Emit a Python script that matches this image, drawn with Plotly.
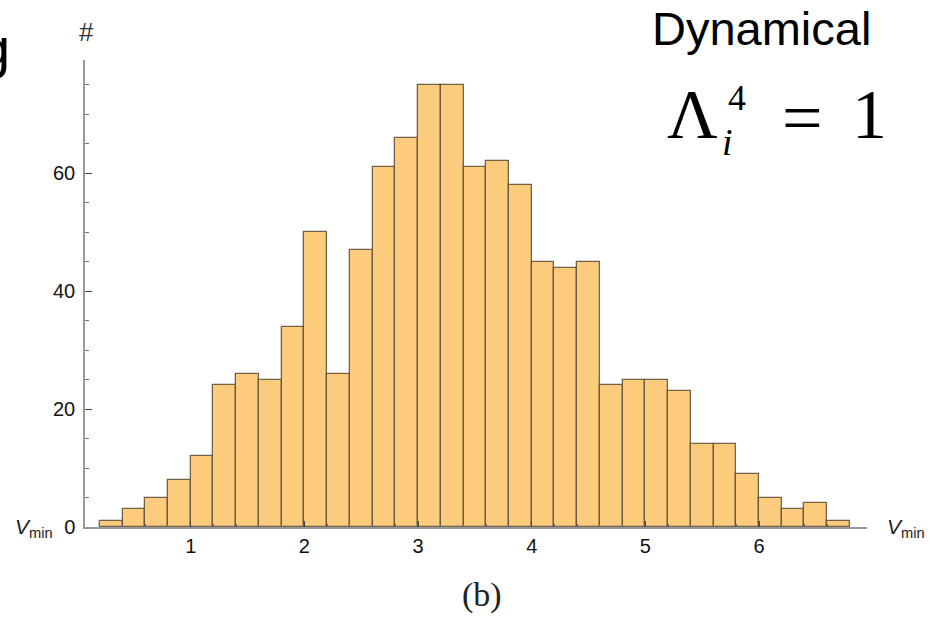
import plotly.graph_objects as go

# Histogram of V_min: 33 bins of width 0.2 starting at 0.2
bin_start = 0.2
bin_width = 0.2
counts = [1, 3, 5, 8, 12, 24, 26, 25, 34, 50, 26, 47, 61, 66, 75, 75, 61,
          62, 58, 45, 44, 45, 24, 25, 25, 23, 14, 14, 9, 5, 3, 4, 1]
x_ticks = [1, 2, 3, 4, 5, 6]
y_ticks = [0, 20, 40, 60]

centers = [bin_start + bin_width * (i + 0.5) for i in range(len(counts))]

W, H = 930, 618
L, R, T, B = 85, 63, 60, 91
plot_w, plot_h = W - L - R, H - T - B


def px(xp):
    return (xp - L) / plot_w


def py(yp):
    return (H - B - yp) / plot_h


fig = go.Figure()
fig.add_trace(go.Bar(
    x=centers, y=counts, width=bin_width,
    marker=dict(color="rgb(252,204,124)",
                line=dict(color="rgba(90,75,55,0.85)", width=1.3)),
    hoverinfo="x+y",
))

axis_col = "#9a9a9a"
tick_font = dict(family="Liberation Sans, Arial, sans-serif", size=20, color="#111111")

fig.update_xaxes(
    range=[0.07, 6.95], showgrid=False, zeroline=False,
    showline=True, linecolor=axis_col, linewidth=1.5,
    tickvals=x_ticks, ticks="inside", ticklen=6, tickcolor="#444",
    tickfont=tick_font, ticklabelstandoff=0,
    minor=dict(dtick=0.2, tick0=0, ticks="inside", ticklen=3, tickcolor="#666"),
)
fig.update_yaxes(
    range=[0, 79.2], showgrid=False, zeroline=False,
    showline=True, linecolor=axis_col, linewidth=1.5,
    tickvals=y_ticks, ticks="inside", ticklen=7, tickcolor="#444",
    tickfont=tick_font, ticklabelstandoff=4,
    minor=dict(dtick=5, tick0=0, ticks="inside", ticklen=4, tickcolor="#777"),
)

sans = "Liberation Sans, Arial, sans-serif"
serif = "Liberation Serif, DejaVu Serif, serif"
ann = []


def text(s, x, y, size, family=sans, color="black", xa="center", ya="middle"):
    ann.append(dict(text=s, x=px(x), y=py(y), xref="paper", yref="paper",
                    showarrow=False, xanchor=xa, yanchor=ya,
                    font=dict(family=family, size=size, color=color)))


# axis captions
text("#", 86, 32, 26, color="#333")
text("<i>V</i><sub>min</sub>", 34, 528, 21, color="#222")
text("<i>V</i><sub>min</sub>", 906, 528, 21, color="#222")

# panel annotations
text("Dynamical", 761, 29, 47)
text("g", -6, 47, 56)
text("Λ", 692, 114, 70, family=serif)
text("4", 737, 98, 36, family=serif)
text("<i>i</i>", 727, 142, 38, family=serif)
text("=", 802, 118, 72, family=serif)
text("1", 870, 114, 70, family=serif)
text("(b)", 482, 595, 34, family=serif, color="#222")

fig.update_layout(
    width=W, height=H,
    margin=dict(l=L, r=R, t=T, b=B),
    paper_bgcolor="white", plot_bgcolor="white",
    showlegend=False, bargap=0,
    annotations=ann,
)

fig.write_html("out.html")
